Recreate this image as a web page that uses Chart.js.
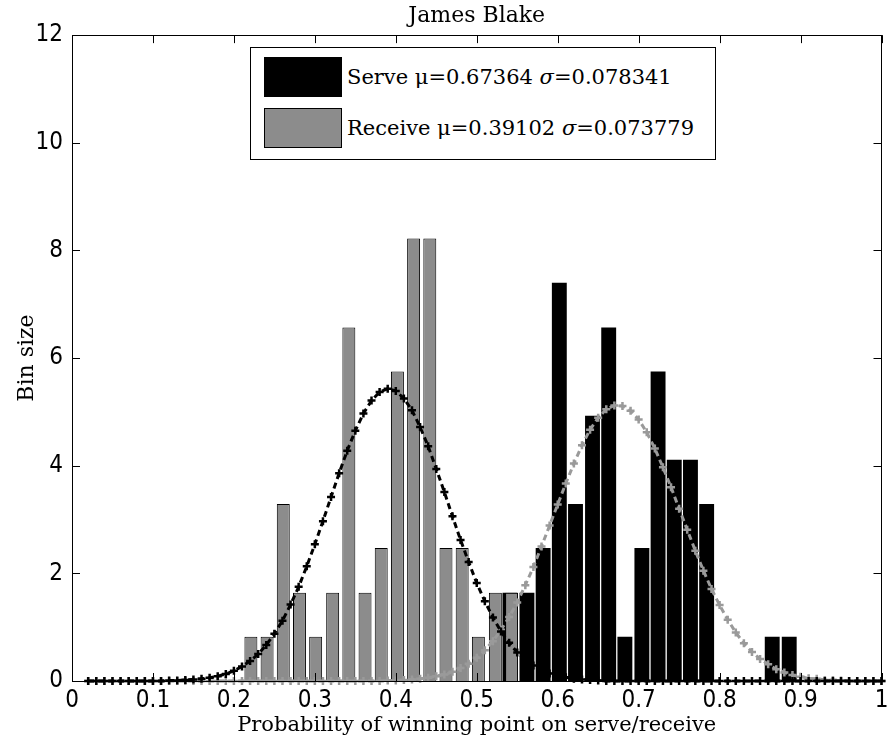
<!DOCTYPE html>
<html>
<head>
<meta charset="utf-8">
<script src="https://cdn.jsdelivr.net/npm/chart.js@4.4.1/dist/chart.umd.min.js"></script>
<style>
  html, body { margin: 0; padding: 0; background: #fff; }
  #wrap { position: relative; width: 888px; height: 753px; }
  #legend {
    position: absolute; left: 250px; top: 47px; width: 466px; height: 113px;
    border: 1px solid #000; background: #fff; box-sizing: border-box;
    font-family: "DejaVu Serif", serif; font-size: 21px; color: #000;
  }
  #legend .item { position: absolute; left: 13px; display: flex; align-items: center; white-space: nowrap; }
  #legend .swatch { width: 78px; height: 40px; border: 1px solid #000; box-sizing: border-box; margin-right: 5px; }
</style>
</head>
<body>
<div id="wrap">
  <canvas id="chart" width="888" height="753"></canvas>
  <div id="legend"></div>
</div>
<script>
const chartTitle = 'James Blake';
const xTitle = 'Probability of winning point on serve/receive';
const yTitle = 'Bin size';

const seriesNames = ['Serve', 'Receive'];
const seriesMu = ['0.67364', '0.39102'];
const seriesSigma = ['0.078341', '0.073779'];

// histogram bins (bin centres) and heights
const serveBins = [0.541, 0.562, 0.582, 0.602, 0.622, 0.643, 0.663, 0.683, 0.704, 0.724, 0.744, 0.764, 0.784, 0.865, 0.886];
const serveCounts = [1.64, 1.64, 2.47, 7.40, 3.29, 4.93, 6.57, 0.82, 2.47, 5.75, 4.11, 4.11, 3.29, 0.82, 0.82];

const receiveBins = [0.221, 0.241, 0.261, 0.281, 0.301, 0.322, 0.342, 0.362, 0.382, 0.402, 0.422, 0.442, 0.462, 0.482, 0.502, 0.523, 0.543];
const receiveCounts = [0.82, 0.82, 3.29, 1.64, 0.82, 1.64, 6.57, 1.64, 2.47, 5.75, 8.22, 8.22, 2.47, 2.47, 0.82, 1.64, 1.64];

// fitted normal curves
const fitX = [
  0.02, 0.03, 0.04, 0.05, 0.06, 0.07, 0.08, 0.09, 0.10, 0.11,
  0.12, 0.13, 0.14, 0.15, 0.16, 0.17, 0.18, 0.19, 0.20, 0.21,
  0.22, 0.23, 0.24, 0.25, 0.26, 0.27, 0.28, 0.29, 0.30, 0.31,
  0.32, 0.33, 0.34, 0.35, 0.36, 0.37, 0.38, 0.39, 0.40, 0.41,
  0.42, 0.43, 0.44, 0.45, 0.46, 0.47, 0.48, 0.49, 0.50, 0.51,
  0.52, 0.53, 0.54, 0.55, 0.56, 0.57, 0.58, 0.59, 0.60, 0.61,
  0.62, 0.63, 0.64, 0.65, 0.66, 0.67, 0.68, 0.69, 0.70, 0.71,
  0.72, 0.73, 0.74, 0.75, 0.76, 0.77, 0.78, 0.79, 0.80, 0.81,
  0.82, 0.83, 0.84, 0.85, 0.86, 0.87, 0.88, 0.89, 0.90, 0.91,
  0.92, 0.93, 0.94, 0.95, 0.96, 0.97, 0.98, 0.99, 1.00
];
const receiveFit = [
  0, 0, 0, 0, 0, 0, 0, 0, 0, 0,
  0.01, 0.01, 0.02, 0.03, 0.04, 0.06, 0.09, 0.13, 0.19, 0.27,
  0.37, 0.50, 0.67, 0.88, 1.12, 1.42, 1.75, 2.13, 2.54, 2.97,
  3.42, 3.86, 4.28, 4.65, 4.97, 5.21, 5.37, 5.43, 5.39, 5.25,
  5.03, 4.72, 4.36, 3.94, 3.51, 3.06, 2.62, 2.21, 1.82, 1.48,
  1.18, 0.92, 0.71, 0.53, 0.39, 0.29, 0.20, 0.14, 0.10, 0.07,
  0.04, 0.03, 0.02, 0.01, 0, 0, 0, 0, 0, 0,
  0, 0, 0, 0, 0, 0, 0, 0, 0, 0,
  0, 0, 0, 0, 0, 0, 0, 0, 0, 0,
  0, 0, 0, 0, 0, 0, 0, 0, 0
];
const serveFit = [
  0, 0, 0, 0, 0, 0, 0, 0, 0, 0,
  0, 0, 0, 0, 0, 0, 0, 0, 0, 0,
  0, 0, 0, 0, 0, 0, 0, 0, 0, 0,
  0, 0, 0, 0, 0, 0, 0, 0.01, 0.01, 0.02,
  0.03, 0.04, 0.06, 0.09, 0.12, 0.17, 0.24, 0.32, 0.43, 0.57,
  0.74, 0.95, 1.19, 1.46, 1.78, 2.12, 2.50, 2.89, 3.28, 3.67,
  4.04, 4.38, 4.67, 4.89, 5.05, 5.12, 5.11, 5.02, 4.86, 4.62,
  4.32, 3.97, 3.60, 3.20, 2.81, 2.42, 2.05, 1.71, 1.41, 1.14,
  0.90, 0.70, 0.54, 0.41, 0.31, 0.22, 0.16, 0.11, 0.08, 0.05,
  0.04, 0.02, 0.02, 0.01, 0, 0, 0, 0, 0
];

const tickFont = { family: '"Liberation Sans Narrow", "DejaVu Sans Condensed", sans-serif', size: 24 };
const serifFont = '"DejaVu Serif", serif';

function legendLabel(i) {
  return `${seriesNames[i]} μ=${seriesMu[i]} σ=${seriesSigma[i]}`;
}

// MATLAB style box with inward ticks on all four sides
const axesBox = {
  id: 'axesBox',
  afterDatasetsDraw(chart) {
    const { ctx, chartArea: a, scales } = chart;
    const len = 8;
    ctx.save();
    ctx.strokeStyle = '#000';
    ctx.lineWidth = 1;
    ctx.beginPath();
    scales.x.ticks.forEach(t => {
      const px = Math.round(scales.x.getPixelForValue(t.value)) + 0.5;
      ctx.moveTo(px, a.bottom); ctx.lineTo(px, a.bottom - len);
      ctx.moveTo(px, a.top); ctx.lineTo(px, a.top + len);
    });
    scales.y.ticks.forEach(t => {
      const py = Math.round(scales.y.getPixelForValue(t.value)) + 0.5;
      ctx.moveTo(a.left, py); ctx.lineTo(a.left + len, py);
      ctx.moveTo(a.right, py); ctx.lineTo(a.right - len, py);
    });
    ctx.stroke();
    ctx.strokeRect(Math.round(a.left) + 0.5, Math.round(a.top) + 0.5, Math.round(a.right - a.left) - 1, Math.round(a.bottom - a.top));
    ctx.restore();
  }
};

// legend as html box inside the axes
const htmlLegend = {
  id: 'htmlLegend',
  afterUpdate(chart) {
    const box = document.getElementById('legend');
    box.innerHTML = '';
    const tops = [9, 60];
    chart.data.datasets.forEach((ds, i) => {
      if (ds.type !== 'bar') return;
      const item = document.createElement('div');
      item.className = 'item';
      item.style.top = tops[i] + 'px';
      const sw = document.createElement('div');
      sw.className = 'swatch';
      sw.style.background = ds.backgroundColor;
      const txt = document.createElement('span');
      txt.innerHTML = ds.label.replace('σ', '<i>σ</i>');
      item.appendChild(sw);
      item.appendChild(txt);
      box.appendChild(item);
    });
  }
};

const ctx = document.getElementById('chart');
new Chart(ctx, {
  type: 'bar',
  data: {
    datasets: [
      {
        type: 'bar',
        label: legendLabel(0),
        data: serveBins.map((x, i) => ({ x: x, y: serveCounts[i] })),
        xAxisID: 'x2',
        backgroundColor: '#000000',
        borderWidth: 0,
        barPercentage: 0.92,
        categoryPercentage: 1,
        grouped: false,
        order: 4
      },
      {
        type: 'bar',
        label: legendLabel(1),
        data: receiveBins.map((x, i) => ({ x: x, y: receiveCounts[i] })),
        xAxisID: 'x',
        backgroundColor: '#8c8c8c',
        borderColor: '#000000',
        borderWidth: 1,
        barPercentage: 0.8,
        categoryPercentage: 1,
        grouped: false,
        order: 3
      },
      {
        type: 'line',
        label: 'Receive fit',
        data: fitX.map((x, i) => ({ x: x, y: receiveFit[i] })),
        xAxisID: 'x',
        borderColor: '#000000',
        borderWidth: 3,
        borderDash: [6, 4],
        pointStyle: 'cross',
        pointRadius: 4,
        pointBorderWidth: 2.5,
        pointBorderColor: '#000000',
        fill: false,
        clip: false,
        order: 1
      },
      {
        type: 'line',
        label: 'Serve fit',
        data: fitX.map((x, i) => ({ x: x, y: serveFit[i] })),
        xAxisID: 'x',
        borderColor: '#9a9a9a',
        borderWidth: 3,
        borderDash: [6, 4],
        pointStyle: 'cross',
        pointRadius: 4,
        pointBorderWidth: 2.5,
        pointBorderColor: '#9a9a9a',
        fill: false,
        clip: false,
        order: 2
      }
    ]
  },
  options: {
    responsive: false,
    animation: false,
    layout: { padding: { left: 0, right: 2, top: 0, bottom: 0 } },
    plugins: {
      legend: { display: false },
      tooltip: { enabled: false },
      title: {
        display: true,
        text: chartTitle,
        fullSize: false,
        color: '#000',
        font: { family: serifFont, size: 22, weight: 'normal', lineHeight: 1.1875 },
        padding: { top: 3, bottom: 6 }
      }
    },
    scales: {
      x: {
        type: 'linear',
        min: 0,
        max: 1,
        offset: false,
        grid: { display: false, drawTicks: false },
        border: { display: false },
        ticks: {
          stepSize: 0.1, color: '#000', font: tickFont, padding: 5, maxRotation: 0,
          callback: v => String(Math.round(v * 10) / 10)
        },
        title: { display: true, text: xTitle, color: '#000', font: { family: serifFont, size: 21 }, padding: { top: 0, bottom: 15 } },
        afterFit(s) { s.paddingLeft = 0; s.paddingRight = 0; s.height = 72; }
      },
      x2: {
        type: 'linear',
        min: 0,
        max: 1,
        offset: false,
        display: false
      },
      y: {
        min: 0,
        max: 12,
        grid: { display: false, drawTicks: false },
        border: { display: false },
        ticks: { stepSize: 2, color: '#000', font: tickFont, padding: 9 },
        title: { display: true, text: yTitle, color: '#000', font: { family: serifFont, size: 22 }, padding: { top: 14, bottom: 0 } },
        afterFit(s) { s.width = 72; }
      }
    }
  },
  plugins: [axesBox, htmlLegend]
});
</script>
</body>
</html>
